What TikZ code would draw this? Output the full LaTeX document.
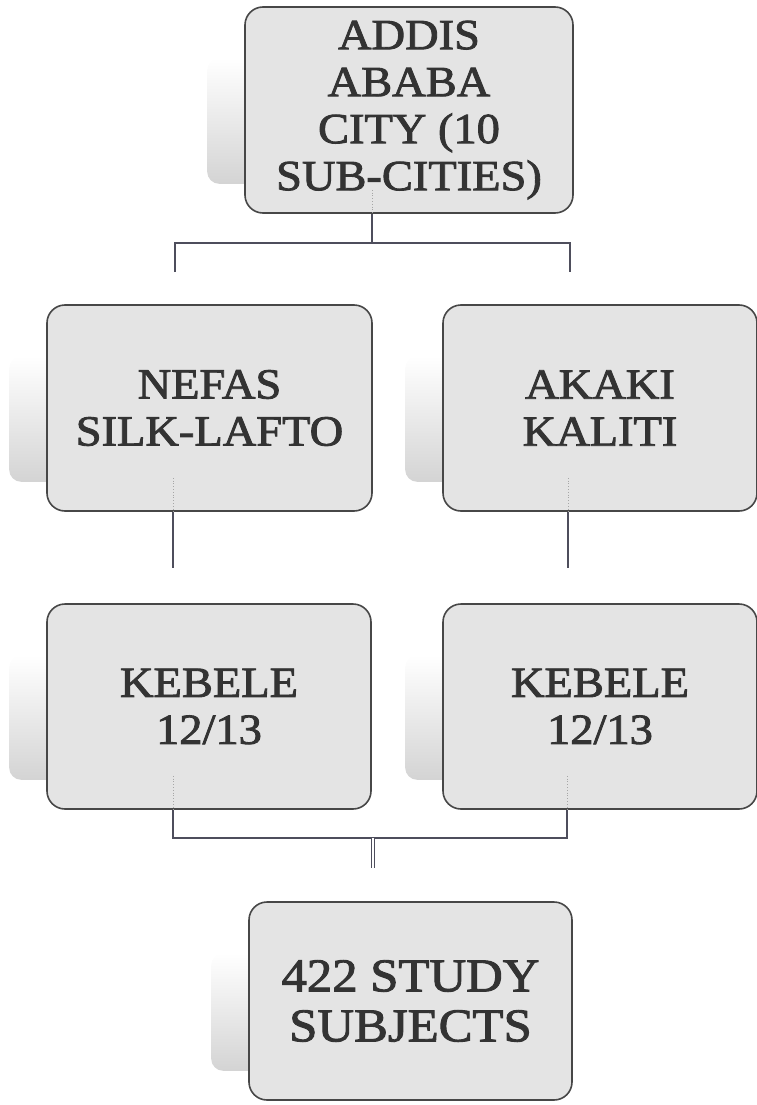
\documentclass[tikz,border=0pt]{standalone}
\usepackage{fontspec}
\setmainfont{Liberation Serif}[FakeStretch=1.08, FakeBold=2]
\usepackage{xcolor}
\usetikzlibrary{positioning}
\usetikzlibrary{calc}
\usetikzlibrary{backgrounds}
\definecolor{boxline}{HTML}{474747}
\definecolor{boxfill}{HTML}{E4E4E4}
\definecolor{boxtext}{HTML}{333333}
\definecolor{linkline}{HTML}{4E4E5C}

\begin{document}
\begin{tikzpicture}[x=1pt, y=-1pt,
	unitbox/.style={draw=boxline, line width=1.6pt, fill=boxfill, rounded corners=18pt,
		text=boxtext, align=center, inner sep=0pt, font=\fontsize{43}{47}\selectfont},
	tabshade/.style={top color=white, bottom color=black!17, rounded corners=12pt},
	link/.style={draw=linkline, line width=1.3pt},
	faint/.style={draw=gray!70, line width=0.8pt, dotted}]
	\useasboundingbox (0,0) rectangle (757,1105);
	% draw units
	\node[unitbox, minimum width=328pt, minimum height=206pt] (addis) at (409,110) {ADDIS\\ABABA\\CITY (10\\SUB-CITIES)};
	\node[unitbox, minimum width=325pt, minimum height=206pt] (nefas) at (209.5,408) {NEFAS\\SILK-LAFTO};
	\node[unitbox, minimum width=314pt, minimum height=206pt] (akaki) at (600,408) {AKAKI\\KALITI};
	\node[unitbox, minimum width=324pt, minimum height=205pt] (kebeleA) at (209,706.5) {KEBELE\\12/13};
	\node[unitbox, minimum width=314pt, minimum height=205pt] (kebeleB) at (600,706.5) {KEBELE\\12/13};
	\node[unitbox, minimum width=323pt, minimum height=198pt, font=\fontsize{47}{50}\selectfont] (subjects) at (410.5,1001) {422 STUDY\\SUBJECTS};
	% side tabs behind the units
	\begin{scope}[on background layer]
		\foreach \n in {addis,nefas,akaki,kebeleA,kebeleB,subjects}
			\shade[tabshade] ($(\n.north west)+(-37,52)$) rectangle ($(\n.south west)+(15,-30)$);
	\end{scope}
	% junction points
	\coordinate (split) at (372,243);
	\coordinate (leftdrop) at (175,272);
	\coordinate (rightdrop) at (570,272);
	\coordinate (nefasend) at (173,568);
	\coordinate (akakiend) at (568,568);
	\coordinate (legA) at (173,838);
	\coordinate (legB) at (567,838);
	\coordinate (join) at (373,838);
	\coordinate (subjectstop) at (373,868);
	% draw links
	\draw[faint] ($(addis.south -| split)+(0,-24)$) -- (addis.south -| split);
	\draw[link] (addis.south -| split) -- (split);
	\draw[link] (leftdrop) |- (split) -| (rightdrop);
	\draw[faint] ($(nefas.south -| nefasend)+(0,-34)$) -- (nefas.south -| nefasend);
	\draw[link] (nefas.south -| nefasend) -- (nefasend);
	\draw[faint] ($(akaki.south -| akakiend)+(0,-34)$) -- (akaki.south -| akakiend);
	\draw[link] (akaki.south -| akakiend) -- (akakiend);
	\draw[faint] ($(kebeleA.south -| legA)+(0,-34)$) -- (kebeleA.south -| legA);
	\draw[faint] ($(kebeleB.south -| legB)+(0,-34)$) -- (kebeleB.south -| legB);
	\draw[link] (kebeleA.south -| legA) -- (legA) -- (legB) -- (kebeleB.south -| legB);
	\draw[link, line width=1.1pt, double, double distance=1.6pt] (join) -- (subjectstop);
\end{tikzpicture}
\end{document}
